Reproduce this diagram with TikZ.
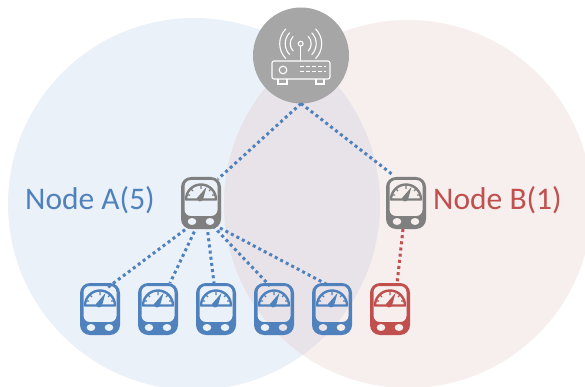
\documentclass[tikz,border=0pt]{standalone}
\usepackage{fontspec}
\setmainfont{Carlito}
\usetikzlibrary{calc}
\definecolor{mblue}{HTML}{4F81BD}
\definecolor{mred}{HTML}{C0504D}
\definecolor{mgray}{HTML}{7F7F7F}
\definecolor{rgray}{HTML}{A6A6A6}
\definecolor{softblue}{HTML}{EBF1F8}
\definecolor{softred}{HTML}{F7EEEE}
\definecolor{softmix}{HTML}{E8E3E9}
\tikzset{
  meterbox/.style={minimum width=40pt,minimum height=52pt,inner sep=0pt,outer sep=0pt},
  link/.style={line width=3pt,dash pattern=on 3pt off 3.2pt,#1},
  lbl/.style={font=\fontsize{31.5}{34}\selectfont,inner sep=0pt,#1},
  pics/meter/.style={code={
    \fill[#1,even odd rule,rounded corners=10pt] (-20,-26) rectangle (20,26)
      [rounded corners=6pt] (-16.5,-23) rectangle (16.5,13)
      [sharp corners] (-9,18.5) ellipse (4.4 and 3.6) (9,18.5) ellipse (4.4 and 3.6);
    \draw[#1,line width=2.4pt,line join=round] (-15,-3.5) arc[start angle=180,end angle=360,x radius=15,y radius=15,] -- cycle;
    \draw[#1,line width=1.2pt] (0,-17) -- (0,-14) (-10,-14) -- (-8,-12) (10,-14) -- (8,-12) (-14,-8) -- (-11,-8) (14,-8) -- (11,-8);
    \fill[#1] (-4,-5) -- (5.5,-16) -- (2,-3.5) arc[start angle=20,end angle=160,radius=3] -- cycle;
  }},
}
\begin{document}
\begin{tikzpicture}[x=1pt,y=-1pt]
\useasboundingbox (0,0) rectangle (585,387);
\begin{scope}
\clip (0,0) rectangle (585,387);
\fill[softblue] (194,204) circle[radius=186];
\fill[softred] (408,204) circle[radius=184];
\begin{scope}
\clip (194,204) circle[radius=186];
\fill[softmix] (408,204) circle[radius=184];
\end{scope}
\end{scope}
\node[circle,fill=rgray,minimum size=96pt,inner sep=0pt,outer sep=0pt] (router) at (301,55.5) {};
\node[meterbox] (a) at (201,203) {};
\node[meterbox] (b) at (406,203) {};
\node[meterbox] (m1) at (100,309) {};
\node[meterbox] (m2) at (158,309) {};
\node[meterbox] (m3) at (216,309) {};
\node[meterbox] (m4) at (274,309) {};
\node[meterbox] (m5) at (332,309) {};
\node[meterbox] (m6) at (390,309) {};
\draw[link=mblue] (router.south) -- ([xshift=17pt,yshift=-2pt]a.north);
\draw[link=mblue] (router.south) -- ([xshift=-13pt,yshift=2pt]b.north);
\draw[link=mblue] ([xshift=-11pt,yshift=3pt]a.south) -- ([xshift=7pt,yshift=-5pt]m1.north);
\draw[link=mblue] ([xshift=-4pt,yshift=3pt]a.south) -- ([xshift=12pt,yshift=0pt]m2.north);
\draw[link=mblue] ([xshift=6pt,yshift=3pt]a.south) -- ([xshift=-2pt,yshift=0pt]m3.north);
\draw[link=mblue] ([xshift=12pt,yshift=3pt]a.south) -- ([xshift=-4pt,yshift=-3pt]m4.north);
\draw[link=mblue] ([xshift=19pt,yshift=1pt]a.south) -- ([xshift=-4pt,yshift=-2pt]m5.north);
\draw[link=mred] ([xshift=-3pt,yshift=0pt]b.south) -- ([xshift=7pt,yshift=-1pt]m6.north);
\pic at (a) {meter=mgray};
\pic at (b) {meter=mgray};
\pic at (m1) {meter=mblue};
\pic at (m2) {meter=mblue};
\pic at (m3) {meter=mblue};
\pic at (m4) {meter=mblue};
\pic at (m5) {meter=mblue};
\pic at (m6) {meter=mred};
\begin{scope}[white,line width=1.1pt]
\draw[rounded corners=2pt] (272,61) rectangle (330,79);
\draw (283,70) circle[radius=3.8];
\draw[line width=1.2pt,dash pattern=on 4pt off 2pt] (300,66.3) -- (326,66.3) (300,71.5) -- (326,71.5);
\draw (278,79) -- (278,84) -- (287,84) -- (287,79) (316,79) -- (316,84) -- (324,84) -- (324,79);
\draw (300.7,43.7) circle[radius=2.4];
\draw (300.7,46.1) -- (300.7,61);
\foreach \r in {10.5,15.5,21}{
  \draw ({300.7+\r*cos(45)},{43.7+\r*sin(45)}) arc[start angle=45,end angle=-45,radius=\r];
  \draw ({300.7-\r*cos(45)},{43.7+\r*sin(45)}) arc[start angle=135,end angle=225,radius=\r];
}
\end{scope}
\node[lbl=mblue,anchor=west] (na) at (25,200) {Node A(5)};
\node[lbl=mred,anchor=west] (nb) at (433,200) {Node B(1)};
\end{tikzpicture}
\end{document}
